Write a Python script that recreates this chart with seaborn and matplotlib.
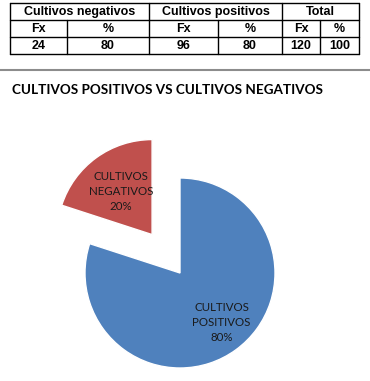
import numpy as np
import matplotlib
matplotlib.use("Agg")
from matplotlib import pyplot as plt
import seaborn as sns

sns.set_style("white")
plt.rcParams['font.family'] = ['Lato', 'DejaVu Sans']

# table data
grupos = ["Cultivos negativos", "Cultivos positivos", "Total"]
subcols = ["Fx", "%", "Fx", "%", "Fx", "%"]
fila = ["24", "80", "96", "80", "120", "100"]

# pie data
categorias = ["CULTIVOS\nPOSITIVOS", "CULTIVOS\nNEGATIVOS"]
frecuencias = [96, 24]
colores = ["#4F81BD", "#C0504D"]

titulo = "CULTIVOS POSITIVOS VS CULTIVOS NEGATIVOS"

W, H = 370, 381
fig = plt.figure(figsize=(W / 100, H / 100), dpi=100)

# ---- table (pixel coords) ----
tab = fig.add_axes([0, 0, 1, 1])
tab.set_xlim(0, W)
tab.set_ylim(H, 0)
tab.axis("off")

xs = [10, 67, 149, 218, 282, 320, 359]
ys = [3, 20, 37, 54]
lc = "black"
lw = 1.0
for y in ys:
    tab.plot([xs[0], xs[-1]], [y, y], color=lc, lw=lw)
for x in [xs[0], xs[2], xs[4], xs[6]]:
    tab.plot([x, x], [ys[0], ys[3]], color=lc, lw=lw)
for x in [xs[1], xs[3], xs[5]]:
    tab.plot([x, x], [ys[1], ys[3]], color=lc, lw=lw)

tfont = dict(family=["Liberation Sans", "DejaVu Sans"], fontweight="bold", fontsize=9, color="black")
for i, g in enumerate(grupos):
    mx = (xs[2 * i] + xs[2 * i + 2]) / 2
    tab.text(mx, (ys[0] + ys[1]) / 2 + 0.5, g, ha="center", va="center", **tfont)
for j in range(6):
    mx = (xs[j] + xs[j + 1]) / 2
    tab.text(mx, (ys[1] + ys[2]) / 2 + 0.5, subcols[j], ha="center", va="center", **tfont)
    tab.text(mx, (ys[2] + ys[3]) / 2 + 0.5, fila[j], ha="center", va="center", **tfont)

# separator line
tab.plot([0, W], [70, 70], color="#8c8c8c", lw=1.5)

# title
tab.text(12, 90, titulo, ha="left", va="center", fontsize=9.7, fontweight="bold", color="black")

# ---- pie ----
cx, cy, r = 180, 273, 95
ax = fig.add_axes([0, 0, 1, 1])
wedges, texts = ax.pie(frecuencias, colors=colores, startangle=90, counterclock=False,
                       explode=[0, 0.5], labels=[f"{c}\n{round(100 * v / sum(frecuencias))}%"
                                                for c, v in zip(categorias, frecuencias)],
                       textprops=dict(fontsize=8.3, color="#1a1a1a", linespacing=1.45))
# place labels inside each wedge
for w, t, d in zip(wedges, texts, [0.68, 0.56]):
    ang = np.deg2rad((w.theta1 + w.theta2) / 2 + 4 * (d > 0.6))
    t.set_position((w.center[0] + d * np.cos(ang), w.center[1] + d * np.sin(ang)))
    t.set_ha("center")
    t.set_va("center")
ax.set_xlim((0 - cx) / r, (W - cx) / r)
ax.set_ylim((cy - H) / r, cy / r)
ax.set_aspect("equal")
ax.axis("off")

fig.savefig("out.png", dpi=100)
